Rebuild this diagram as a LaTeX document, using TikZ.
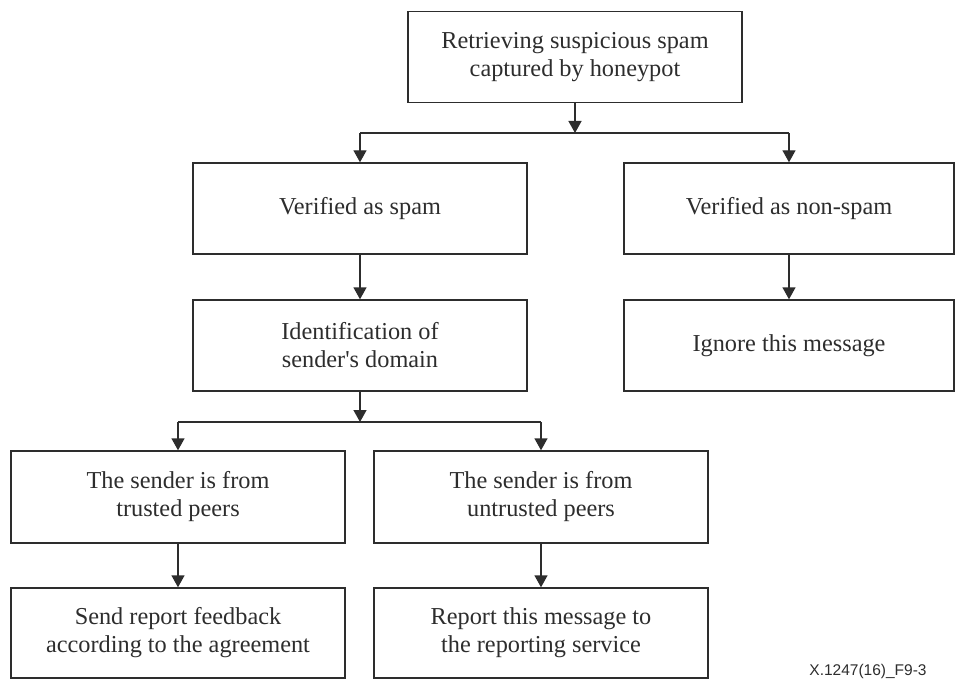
\documentclass[tikz,border=0pt]{standalone}
\usepackage{fontspec}
\setmainfont{Liberation Serif}
\newfontfamily\labelsans{Liberation Sans}
\usetikzlibrary{arrows.meta}
\definecolor{ink}{RGB}{45,45,45}
\tikzset{
  flowbox/.style={draw=ink, line width=1.4pt, rectangle, inner sep=0pt,
    minimum width=334pt, minimum height=91pt, align=center, text=ink,
    font=\fontsize{24.3}{28}\selectfont},
  link/.style={draw=ink, line width=1.4pt},
  arr/.style={link, -{Triangle[width=13pt,length=12pt]}},
}
\begin{document}
\begin{tikzpicture}[x=1pt, y=-1pt]
\useasboundingbox (0,0) rectangle (955,679);

% boxes
\node[flowbox] (top) at (575,57) {Retrieving suspicious spam\\captured by honeypot};
\node[flowbox] (spam) at (360,208.5) {Verified as spam};
\node[flowbox, minimum width=330pt] (nonspam) at (789,208.5) {Verified as non-spam};
\node[flowbox] (ident) at (360,345.5) {Identification of\\sender\textquotesingle s domain};
\node[flowbox, minimum width=330pt] (ignore) at (789,345.5) {Ignore this message};
\node[flowbox, minimum height=92pt] (trusted) at (178,497) {The sender is from\\trusted peers};
\node[flowbox, minimum height=92pt] (untrusted) at (541,497) {The sender is from\\untrusted peers};
\node[flowbox, minimum height=90pt] (send) at (178,633) {Send report feedback\\according to the agreement};
\node[flowbox, minimum height=90pt] (report) at (541,633) {Report this message to\\the reporting service};

% first split
\coordinate (j1) at (575,133);
\coordinate (j1l) at (spam.north |- j1);
\coordinate (j1r) at (nonspam.north |- j1);
\draw[arr] (top.south) -- (j1);
\draw[link] (j1l) -- (j1r);
\draw[arr] (j1l) -- (spam.north);
\draw[arr] (j1r) -- (nonspam.north);

% straight steps
\draw[arr] (spam.south) -- (ident.north);
\draw[arr] (nonspam.south) -- (ignore.north);

% second split
\coordinate (j2) at (360,422);
\coordinate (j2l) at (trusted.north |- j2);
\coordinate (j2r) at (untrusted.north |- j2);
\draw[arr] (ident.south) -- (j2);
\draw[link] (j2l) -- (j2r);
\draw[arr] (j2l) -- (trusted.north);
\draw[arr] (j2r) -- (untrusted.north);

\draw[arr] (trusted.south) -- (send.north);
\draw[arr] (untrusted.south) -- (report.north);

% figure tag
\node[text=ink, font=\labelsans\fontsize{15.5}{18}\selectfont] (tag) at (868,671) {X.1247(16)\_F9-3};
\end{tikzpicture}
\end{document}
